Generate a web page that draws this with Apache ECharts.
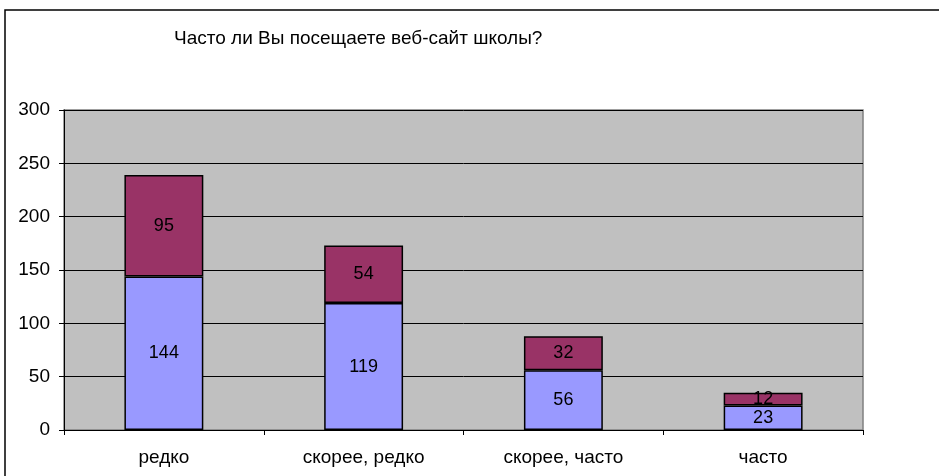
<!DOCTYPE html>
<html><head><meta charset="utf-8">
<script src="https://cdn.jsdelivr.net/npm/echarts@6/dist/echarts.min.js"></script>
<style>html,body{margin:0;padding:0;background:#fff}#c{width:939px;height:476px}</style>
</head><body><div id="c"></div>
<script>
var categories = ['редко', 'скорее, редко', 'скорее, часто', 'часто'];
var seriesA = [144, 119, 56, 23];
var seriesB = [95, 54, 32, 12];
var titleText = 'Часто ли Вы посещаете веб-сайт школы?';

var chart = echarts.init(document.getElementById('c'));
var font = '"Liberation Sans", Arial, sans-serif';
var lbl = {show: true, position: 'inside', color: '#000', fontSize: 18, fontFamily: font};
chart.setOption({
  animation: false,
  textStyle: {fontFamily: font},
  graphic: [{type: 'rect', shape: {x: 5, y: 10, width: 1000, height: 1000}, style: {fill: 'none', stroke: '#000', lineWidth: 1.5}}],
  title: {text: titleText, left: 169, top: 24, textStyle: {fontSize: 19, fontWeight: 'normal', color: '#000', fontFamily: font}},
  grid: {left: 64, right: 76, top: 110, bottom: 46, show: true, backgroundColor: '#C0C0C0', borderColor: '#808080', borderWidth: 1.5},
  xAxis: {type: 'category', data: categories,
    axisLine: {lineStyle: {color: '#000', width: 1}},
    axisTick: {show: true, length: 5, lineStyle: {color: '#000'}},
    axisLabel: {color: '#000', fontSize: 19, margin: 18, fontFamily: font}},
  yAxis: {type: 'value', min: 0, max: 300, interval: 50,
    axisLine: {show: true, lineStyle: {color: '#000'}},
    axisTick: {show: true, length: 5, lineStyle: {color: '#000'}},
    axisLabel: {color: '#000', fontSize: 19, margin: 14, fontFamily: font},
    splitLine: {lineStyle: {color: '#000', width: 1}}},
  series: [
    {type: 'bar', stack: 's', data: seriesA, barWidth: '39.5%', itemStyle: {color: '#9999FF', borderColor: '#000', borderWidth: 1.5}, label: lbl},
    {type: 'bar', stack: 's', data: seriesB, itemStyle: {color: '#993366', borderColor: '#000', borderWidth: 1.5}, label: lbl}
  ]
});
</script></body></html>
